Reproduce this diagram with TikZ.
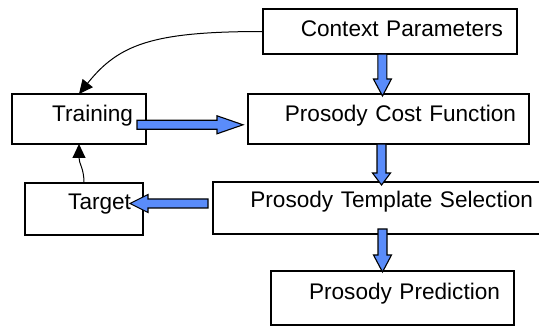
\documentclass[tikz,border=0pt]{standalone}
\usepackage{fontspec}
\setmainfont{Liberation Sans}
\usepackage{xcolor}
\usetikzlibrary{calc}
\usetikzlibrary{positioning,arrows.meta}
\definecolor{arrowblue}{RGB}{90,140,250}
\newcommand{\fatw}{4.5pt}
\newcommand{\fathw}{9pt}
\newcommand{\fathl}{17pt}
\tikzset{box/.style={draw,line width=1.2pt,outer sep=0pt,inner ysep=0pt,align=right,anchor=north west,font=\fontsize{22.6}{26}\selectfont}}
\tikzset{headlen/.code={\def\fathl{#1}}}
% block arrow, drawn from start to target
\tikzset{fat/.style={fill=arrowblue,draw=black,line width=1.1pt,to path={
  ($(\tikztostart)!\fatw!90:(\tikztotarget)$)
  -- ($($(\tikztotarget)!\fathl!(\tikztostart)$)!\fatw!90:(\tikztotarget)$)
  -- ($($(\tikztotarget)!\fathl!(\tikztostart)$)!\fathw!90:(\tikztotarget)$)
  -- (\tikztotarget)
  -- ($($(\tikztotarget)!\fathl!(\tikztostart)$)!\fathw!-90:(\tikztotarget)$)
  -- ($($(\tikztotarget)!\fathl!(\tikztostart)$)!\fatw!-90:(\tikztotarget)$)
  -- ($(\tikztostart)!\fatw!-90:(\tikztotarget)$) -- cycle}}}
\tikzset{curved/.style={line width=1pt,-{Triangle[length=14pt,width=13pt]}}}

\begin{document}
\begin{tikzpicture}[x=1pt,y=-1pt]
\useasboundingbox (0,0) rectangle (539,326);
\node[box,inner xsep=14pt,text width=226pt,text height=28pt,text depth=17pt] (ctx) at (263,9) {Context Parameters};
\node[box,inner xsep=13pt,text width=108pt,text height=28pt,text depth=22pt] (train) at (12,94) {Training};
\node[box,inner xsep=13pt,text width=255pt,text height=28pt,text depth=22pt] (cost) at (248,94) {Prosody Cost Function};
\node[box,inner xsep=13pt,text width=307pt,text height=26pt,text depth=26pt] (sel) at (213,182) {Prosody Template Selection};
\node[box,inner xsep=12pt,text width=94pt,text height=27pt,text depth=25pt] (tgt) at (25,183) {Target};
\node[box,inner xsep=14pt,text width=215pt,text height=28pt,text depth=26pt] (pred) at (271,271) {Prosody Prediction};

\draw[fat] ([xshift=-7.7pt]ctx.south) to ([xshift=-6pt,yshift=-2pt]cost.north);
\draw[fat,headlen=12pt] ([xshift=-7pt]cost.south) to ([xshift=2pt,yshift=-3pt]sel.north);
\draw[fat] ([xshift=3pt,yshift=5pt]sel.south) to ([xshift=-10pt,yshift=-1pt]pred.north);
\draw[fat,headlen=26pt] ([xshift=-9pt,yshift=-5.8pt]train.east) to ([xshift=-5pt,yshift=-5.8pt]cost.west);
\draw[fat,headlen=18pt] ([xshift=-5pt,yshift=4.5pt]sel.west) to ([xshift=-13pt,yshift=5.5pt]tgt.east);

\draw[curved] (ctx.west) .. controls +(-110,0) and +(40,-50) .. (train.north);
\draw[curved] (tgt.north) .. controls +(0,-15) and +(0,20) .. (train.south);
\end{tikzpicture}
\end{document}
